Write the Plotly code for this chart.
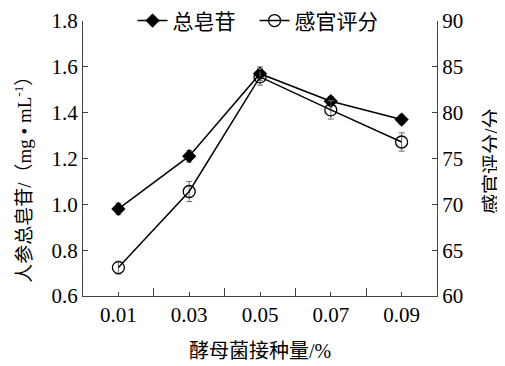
import plotly.graph_objects as go

categories = ["0.01", "0.03", "0.05", "0.07", "0.09"]
saponin = [0.98, 1.21, 1.57, 1.45, 1.37]
saponin_err = [0.025, 0.025, 0.03, 0.02, 0.02]
sensory = [63.1, 71.4, 83.9, 80.3, 76.8]
sensory_err = [0.7, 1.1, 0.9, 1.0, 1.0]

left_ticks = [0.6, 0.8, 1.0, 1.2, 1.4, 1.6, 1.8]
right_ticks = [60, 65, 70, 75, 80, 85, 90]

FONT = "'Liberation Serif', 'Times New Roman', 'Noto Sans CJK SC', serif"
AX = "#404040"
xs = list(range(len(categories)))

fig = go.Figure()
fig.add_trace(go.Scatter(
    x=xs, y=saponin, name="总皂苷", mode="lines+markers",
    line=dict(color="black", width=1.5),
    marker=dict(symbol="diamond", size=11, color="black"),
    error_y=dict(type="data", array=saponin_err, color="#707070", thickness=1, width=3),
    yaxis="y"))
fig.add_trace(go.Scatter(
    x=xs, y=sensory, name="感官评分", mode="lines+markers",
    line=dict(color="black", width=1.5),
    marker=dict(symbol="circle-open", size=12, color="black", line=dict(width=1.3)),
    error_y=dict(type="data", array=sensory_err, color="#707070", thickness=1, width=3),
    yaxis="y2"))

fig.update_layout(
    width=497, height=358,
    margin=dict(l=75, r=68, t=13, b=70, autoexpand=False),
    paper_bgcolor="white", plot_bgcolor="white",
    font=dict(family=FONT, size=21, color="black"),
    showlegend=True,
    legend=dict(orientation="h", x=0.14, y=1.075, xanchor="left", yanchor="top",
                font=dict(size=21), bgcolor="rgba(0,0,0,0)", itemwidth=30,
                entrywidth=77, entrywidthmode="pixels",
                tracegroupgap=0),
    xaxis=dict(range=[-0.5, 4.5], tickmode="array", tickvals=xs, ticktext=categories,
               ticks="inside", ticklen=4, tickcolor=AX, showgrid=False, zeroline=False,
               showline=True, linecolor=AX, linewidth=1.3, automargin=False,
               minor=dict(tickmode="array", tickvals=[-0.5, 0.5, 1.5, 2.5, 3.5, 4.5],
                          ticks="inside", ticklen=8, tickcolor=AX, showgrid=False),
               tickfont=dict(size=21)),
    yaxis=dict(range=[0.6, 1.8], tickmode="array", tickvals=left_ticks,
               ticktext=[f"{v:.1f}" for v in left_ticks], automargin=False,
               ticks="inside", ticklen=5, tickcolor=AX, showgrid=False, zeroline=False,
               showline=True, linecolor=AX, linewidth=1.3, tickfont=dict(size=21)),
    yaxis2=dict(range=[60, 90], tickmode="array", tickvals=right_ticks,
                overlaying="y", side="right", automargin=False,
                ticks="inside", ticklen=5, tickcolor=AX, showgrid=False, zeroline=False,
                showline=True, linecolor=AX, linewidth=1.3, tickfont=dict(size=21)),
    annotations=[
        dict(text="人参总皂苷/（mg • mL<sup>-1</sup>）", xref="paper", yref="paper",
             x=-0.17, y=0.44, xanchor="center", yanchor="middle", textangle=-90,
             showarrow=False, font=dict(size=19)),
        dict(text="感官评分/分", xref="paper", yref="paper",
             x=1.155, y=0.49, xanchor="center", yanchor="middle", textangle=-90,
             showarrow=False, font=dict(size=20)),
        dict(text="酵母菌接种量/%", xref="paper", yref="paper",
             x=0.5, y=-0.2, xanchor="center", yanchor="middle",
             showarrow=False, font=dict(size=20)),
    ],
)

fig.write_html("out.html")
